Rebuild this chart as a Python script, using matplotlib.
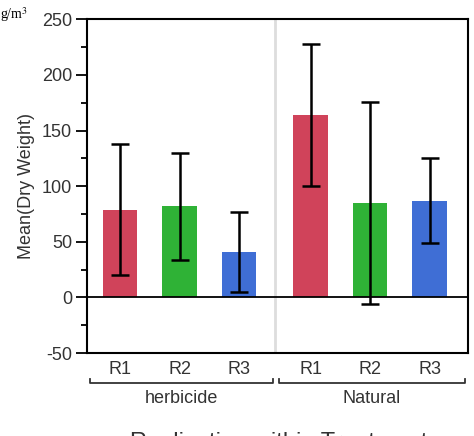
import matplotlib
matplotlib.use("Agg")
import matplotlib.pyplot as plt
from matplotlib.ticker import MultipleLocator

plt.rcParams['font.family'] = ['Liberation Sans', 'DejaVu Sans']
plt.rcParams['axes.unicode_minus'] = False

groups = ["herbicide", "Natural"]
reps = ["R1", "R2", "R3", "R1", "R2", "R3"]
means = [79, 82, 41, 164, 85, 87]
errors = [59, 48, 36, 64, 91, 38]
colors = ["#D0435A", "#2FB236", "#3F6ED5", "#D0435A", "#2FB236", "#3F6ED5"]
positions = [0, 1, 2, 3.2, 4.2, 5.2]

W, H = 474, 436
fig = plt.figure(figsize=(W / 100, H / 100), dpi=100)
ax = fig.add_axes([87.3 / W, 1 - 353 / H, (468.3 - 87.3) / W, (353 - 19.3) / H])

ax.bar(positions, means, width=0.583, color=colors, zorder=2)
ax.errorbar(positions, means, yerr=errors, fmt='none', ecolor='black',
            elinewidth=1.8, capsize=6.3, capthick=1.8, zorder=3)

ax.axhline(0, color='black', lw=1.3, zorder=2.5)
ax.axvline(2.61, color='#DDDDDD', lw=2, zorder=1)

ax.set_xlim(-0.55, 5.85)
ax.set_ylim(-50, 250)
ax.yaxis.set_major_locator(MultipleLocator(50))
ax.yaxis.set_minor_locator(MultipleLocator(25))
ax.tick_params(axis='y', which='major', length=8, width=1.3, labelsize=13,
               labelcolor='#333333', pad=3)
ax.tick_params(axis='y', which='minor', length=4, width=1.3)
ax.set_xticks([])
for s in ax.spines.values():
    s.set_linewidth(1.5)

ax.set_ylabel("Mean(Dry Weight)", fontsize=13, color='#333333', labelpad=5)

# category labels and group brackets
trans = ax.get_xaxis_transform()
for p, r in zip(positions, reps):
    ax.text(p, -0.05, r, transform=trans, ha='center', va='center',
            fontsize=13, color='#333333')

def bracket(x0, x1, label):
    y = -0.09
    ax.plot([x0, x0, x1, x1], [y + 0.012, y, y, y + 0.012], transform=trans,
            color='#333333', lw=1.3, clip_on=False)
    ax.text((x0 + x1) / 2, -0.135, label, transform=trans, ha='center',
            va='center', fontsize=13, color='#333333')

bracket(-0.5, 2.57, groups[0])
bracket(2.67, 5.79, groups[1])

fig.text(279 / W, 1 - 449 / H, "Replication within Treatment", ha='center',
         va='baseline', fontsize=17, color='#333333')

fig.text(0, 1 - 15 / H, "g/m$^3$", ha='left', va='center', fontsize=10,
         family=['Liberation Serif'], math_fontfamily='stix')

fig.savefig("out.png", dpi=100)
